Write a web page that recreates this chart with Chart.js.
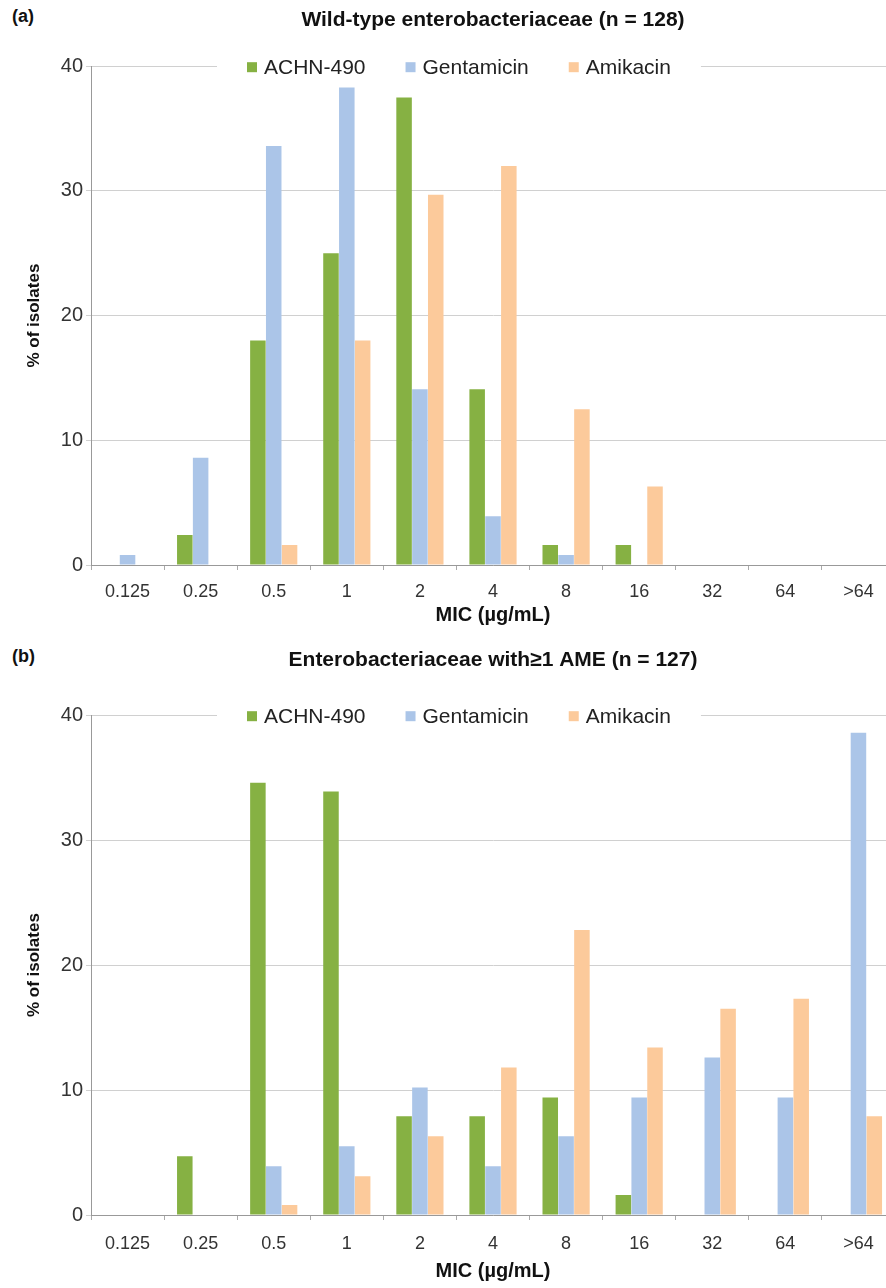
<!DOCTYPE html>
<html>
<head>
<meta charset="utf-8">
<script src="https://cdn.jsdelivr.net/npm/chart.js@4.4.1/dist/chart.umd.min.js"></script>
<style>
  html, body { margin: 0; padding: 0; background: #fff; overflow: hidden; }
  body { width: 886px; height: 1288px; position: relative; }
  .panel { position: absolute; left: 0; width: 895px; }
  .tag { position: absolute; left: 12px; font: bold 18px "Liberation Sans", Arial, sans-serif; color: #111; }
</style>
</head>
<body>
<div class="tag" style="top:6px">(a)</div>
<div class="panel" style="top:0; height:630px"><canvas id="chartA"></canvas></div>
<div class="tag" style="top:646px">(b)</div>
<div class="panel" style="top:640px; height:648px"><canvas id="chartB"></canvas></div>

<script>
// MIC categories (µg/mL)
const categories = ["0.125", "0.25", "0.5", "1", "2", "4", "8", "16", "32", "64", ">64"];
const seriesNames = ["ACHN-490", "Gentamicin", "Amikacin"];
const seriesColors = ["#86b143", "#abc5e8", "#fcca9b"];
const yTicks = [0, 10, 20, 30, 40];

// (a) wild-type, % of isolates
const wildAchn = [0, 2.4, 18.0, 25.0, 37.5, 14.1, 1.6, 1.6, 0, 0, 0];
const wildGent = [0.8, 8.6, 33.6, 38.3, 14.1, 3.9, 0.8, 0, 0, 0, 0];
const wildAmik = [0, 0, 1.6, 18.0, 29.7, 32.0, 12.5, 6.3, 0, 0, 0];

// (b) with >=1 AME, % of isolates
const ameAchn = [0, 4.7, 34.6, 33.9, 7.9, 7.9, 9.4, 1.6, 0, 0, 0];
const ameGent = [0, 0, 3.9, 5.5, 10.2, 3.9, 6.3, 9.4, 12.6, 9.4, 38.6];
const ameAmik = [0, 0, 0.8, 3.1, 6.3, 11.8, 22.8, 13.4, 16.5, 17.3, 7.9];

Chart.defaults.font.family = '"Liberation Sans", Arial, Helvetica, sans-serif';
Chart.defaults.color = "#333";

// legend drawn across the top gridline, on a white strip
const inlineLegend = {
  id: "inlineLegend",
  afterDraw(chart, args, opts) {
    const ctx = chart.ctx;
    const y = chart.chartArea.top;
    ctx.save();
    ctx.font = '21px "Liberation Sans", Arial, sans-serif';
    const items = chart.data.datasets.map(ds => ({ ds, w: ctx.measureText(ds.label).width }));
    const total = items.reduce((s, it) => s + 17 + it.w, 0) + opts.gap * (items.length - 1);
    let x = opts.startX;
    ctx.fillStyle = "#fff";
    ctx.fillRect(x - opts.padLeft, y - 13, total + opts.padLeft + opts.padRight, 26);
    ctx.textBaseline = "middle";
    items.forEach(it => {
      ctx.fillStyle = it.ds.backgroundColor;
      ctx.fillRect(x, y - 4, 10, 10);
      ctx.fillStyle = "#222";
      ctx.fillText(it.ds.label, x + 17, y + 2);
      x += 17 + it.w + opts.gap;
    });
    ctx.restore();
  }
};

function makeChart(id, title, values, pad) {
  return new Chart(document.getElementById(id), {
    type: "bar",
    data: {
      labels: categories,
      datasets: values.map((v, i) => ({
        label: seriesNames[i],
        data: v,
        backgroundColor: seriesColors[i],
        barPercentage: 0.98,
        categoryPercentage: 0.65
      }))
    },
    options: {
      responsive: true,
      maintainAspectRatio: false,
      animation: false,
      layout: { padding: 0 },
      plugins: {
        legend: { display: false },
        tooltip: { enabled: false },
        title: {
          display: true,
          text: title,
          fullSize: false,
          color: "#111",
          font: { size: 21, weight: "bold" },
          padding: { top: 8, bottom: pad.titleBottom }
        },
        inlineLegend: { startX: 247, gap: 40, padLeft: 30, padRight: 30 }
      },
      scales: {
        x: {
          afterFit: scale => { scale.height = pad.xHeight; },
          grid: { drawOnChartArea: false, tickLength: 5, color: "#aaa", offset: true },
          border: { color: "#999" },
          ticks: { font: { size: 18 }, color: "#333", padding: pad.tickPad, maxRotation: 0 },
          title: {
            display: true,
            text: "MIC (µg/mL)",
            color: "#111",
            font: { size: 20, weight: "bold" },
            padding: { top: 0, bottom: pad.xTitleBottom }
          }
        },
        y: {
          min: 0,
          max: 40,
          afterBuildTicks: scale => { scale.ticks = yTicks.map(v => ({ value: v })); },
          afterFit: scale => { scale.width = 91; },
          grid: { color: "#d0d0d0", tickLength: 5 },
          border: { color: "#999" },
          ticks: { font: { size: 20 }, color: "#333", padding: 3 },
          title: {
            display: true,
            text: "% of isolates",
            color: "#111",
            font: { size: 17, weight: "bold" },
            padding: { top: 24, bottom: 0 }
          }
        }
      }
    },
    plugins: [inlineLegend]
  });
}

makeChart("chartA", "Wild-type enterobacteriaceae (n = 128)", [wildAchn, wildGent, wildAmik],
  { titleBottom: 33, xHeight: 65, tickPad: 11, xTitleBottom: 3 });
makeChart("chartB", "Enterobacteriaceae with\u22651 AME (n = 127)", [ameAchn, ameGent, ameAmik],
  { titleBottom: 42, xHeight: 73, tickPad: 13, xTitleBottom: 5 });
</script>
</body>
</html>
